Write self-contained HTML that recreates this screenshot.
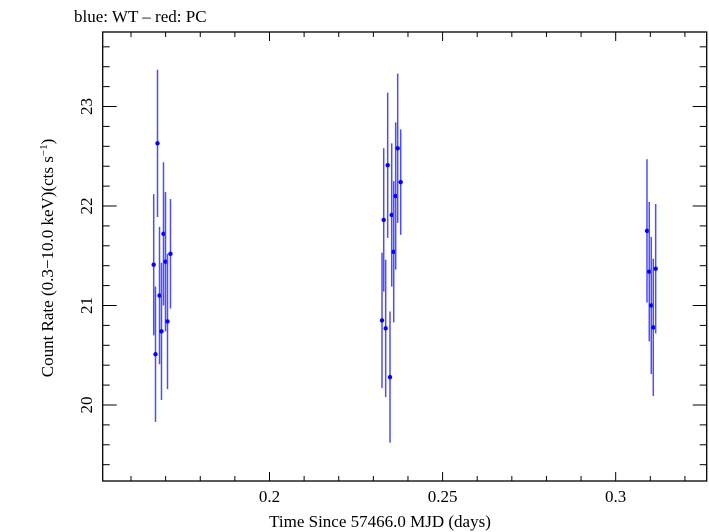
<!DOCTYPE html>
<html><head><meta charset="utf-8"><style>
html,body{margin:0;padding:0;background:#fff;}
svg{display:block;font-family:"Liberation Serif",serif;}
</style></head><body>
<svg id="chart" width="709" height="532" viewBox="0 0 709 532" xmlns="http://www.w3.org/2000/svg">
<text x="74" y="22" font-size="17">blue: WT – red: PC</text>
<rect x="102.7" y="32" width="604" height="449" fill="none" stroke="#000" stroke-width="1.3"/>
<g id="ticks"></g>
<g id="series"></g>
<text x="380" y="527" font-size="17" text-anchor="middle">Time Since 57466.0 MJD (days)</text>
<text transform="translate(53,258) rotate(-90)" font-size="17" text-anchor="middle">Count Rate (0.3−10.0 keV)(cts s<tspan dy="-6" font-size="11">−1</tspan><tspan dy="6">)</tspan></text>
</svg>
<script>
const times = [0.16655,0.16707,0.16765,0.16823,0.16880,0.16938,0.16996,0.17054,0.17140,
  0.23250,0.23299,0.23356,0.23414,0.23481,0.23530,0.23588,0.23645,0.23703,0.23790,
  0.30904,0.30970,0.31028,0.31086,0.31155];
const rates = [21.41,20.51,22.63,21.10,20.74,21.72,21.44,20.84,21.52,
  20.85,21.86,20.77,22.41,20.28,21.91,21.54,22.10,22.58,22.24,
  21.75,21.34,21.00,20.78,21.37];
const errs = [0.71,0.68,0.74,0.69,0.69,0.72,0.70,0.68,0.55,
  0.68,0.72,0.69,0.73,0.66,0.72,0.71,0.74,0.75,0.53,
  0.72,0.70,0.69,0.69,0.65];
const xMajor = [0.2,0.25,0.3];
const xLabels = ["0.2","0.25","0.3"];
const yMajor = [20,21,22,23];
const yLabels = ["20","21","22","23"];
const L=102.7,R=706.7,T=32,B=481;
const x0=0.15182,x1=0.32629,y0=19.236,y1=23.749;
const sx=v=>L+(v-x0)/(x1-x0)*(R-L);
const sy=v=>B-(v-y0)/(y1-y0)*(B-T);
const NS="http://www.w3.org/2000/svg";
const tg=document.getElementById('ticks'), sg=document.getElementById('series'), svg=document.getElementById('chart');
function ln(p,a,b,c,d,col,w){const e=document.createElementNS(NS,'line');e.setAttribute('x1',a);e.setAttribute('y1',b);e.setAttribute('x2',c);e.setAttribute('y2',d);e.setAttribute('stroke',col);e.setAttribute('stroke-width',w);p.appendChild(e);return e;}
for(let i=16;i<=32;i++){const v=i/100;const big=Math.abs(v*20-Math.round(v*20))<1e-6;const len=big?9:5;const X=sx(v);
  let e=ln(tg,X,B,X,B-len,'#000',1);
  
  
  e=ln(tg,X,T,X,T+len,'#000',1);
  
  }
for(let i=97;i<=118;i++){const v=i/5;if(v<y0||v>y1)continue;const big=i%5===0;const len=big?14:7;const Y=sy(v);
  let e=ln(tg,L,Y,L+len,Y,'#000',1);
  
  
  e=ln(tg,R,Y,R-len,Y,'#000',1);
  
  }
xMajor.forEach((v,i)=>{const t=document.createElementNS(NS,'text');t.setAttribute('x',sx(v));t.setAttribute('y',502);t.setAttribute('font-size','17');t.setAttribute('text-anchor','middle');t.textContent=xLabels[i];
  
  
  svg.appendChild(t);});
yMajor.forEach((v,i)=>{const t=document.createElementNS(NS,'text');t.setAttribute('transform','translate(92,'+sy(v)+') rotate(-90)');t.setAttribute('font-size','17');t.setAttribute('text-anchor','middle');t.textContent=yLabels[i];
  
  
  svg.appendChild(t);});
times.forEach((t,i)=>{const X=sx(t);
  const e=ln(sg,X,sy(rates[i]+errs[i]),X,sy(rates[i]-errs[i]),'#4d4dff',1.5);
  
  
  const c=document.createElementNS(NS,'circle');c.setAttribute('cx',X);c.setAttribute('cy',sy(rates[i]));c.setAttribute('r',2.2);c.setAttribute('fill','#0000ff');
  
  
  sg.appendChild(c);});
</script>
</body></html>
